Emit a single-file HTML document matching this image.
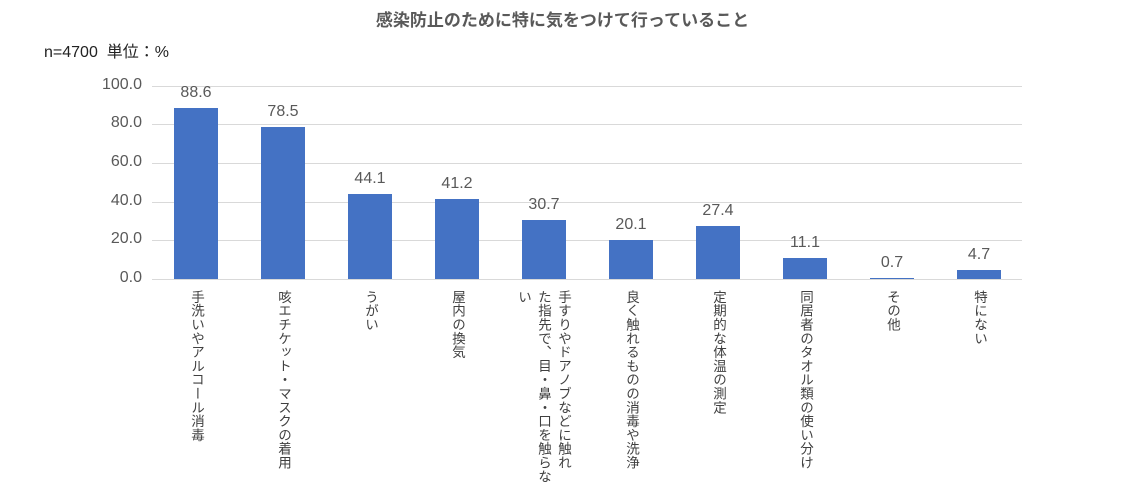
<!DOCTYPE html>
<html><head><meta charset="utf-8"><style>
body{margin:0;background:#fff;width:1125px;height:484px;overflow:hidden;position:relative;font-family:"Liberation Sans","Noto Sans CJK JP",sans-serif;color:#595959}
.abs{position:absolute}
.title{left:0;width:1125px;top:6px;text-align:center;font-size:17px;font-weight:bold;color:#595959}
.note{left:44px;top:38px;font-size:16px;color:#222}
.grid{height:1px;background:#d9d9d9;left:152px;width:870px}
.tick{width:60px;text-align:right;left:82px;font-size:16px;color:#595959}
.bar{background:#4472c4}
.val{font-size:16px;text-align:center;width:60px}
.lab{writing-mode:vertical-rl;font-size:13.5px;line-height:20px;top:290px;color:#404040;letter-spacing:0.3px;white-space:nowrap}
</style></head><body>
<div class="abs title">感染防止のために特に気をつけて行っていること</div>
<div class="abs note">n=4700&nbsp; 単位：%</div>
<div id="chart"></div>
<script>
const categories=["手洗いやアルコール消毒","咳エチケット・マスクの着用","うがい","屋内の換気","手すりやドアノブなどに触れた指先で、目・鼻・口を触らない","良く触れるものの消毒や洗浄","定期的な体温の測定","同居者のタオル類の使い分け","その他","特にない"];
const values=[88.6,78.5,44.1,41.2,30.7,20.1,27.4,11.1,0.7,4.7];
const ticks=[0,20,40,60,80,100];
const labelLines=[["手洗いやアルコール消毒"],["咳エチケット・マスクの着用"],["うがい"],["屋内の換気"],["手すりやドアノブなどに触れ","た指先で、目・鼻・口を触らな","い"],["良く触れるものの消毒や洗浄"],["定期的な体温の測定"],["同居者のタオル類の使い分け"],["その他"],["特にない"]];
const chart=document.getElementById('chart');
const y0=279,yTop=85.7,vmax=100;
const y=v=>y0-(y0-yTop)*v/vmax;
const x=i=>196+i*87;
ticks.forEach(t=>{
 const g=document.createElement('div');g.className='abs grid';g.style.top=Math.round(y(t))+'px';
 
 
 chart.appendChild(g);
 const l=document.createElement('div');l.className='abs tick';l.style.top=(y(t)-10)+'px';l.textContent=t.toFixed(1);
 
 
 chart.appendChild(l);
});
values.forEach((v,i)=>{
 const b=document.createElement('div');b.className='abs bar';
 const top=y(v);b.style.left=(x(i)-22)+'px';b.style.width='44px';b.style.top=top+'px';b.style.height=Math.max(1,y0-top)+'px';
 
 
 chart.appendChild(b);
 const t=document.createElement('div');t.className='abs val';t.style.left=(x(i)-30)+'px';t.style.top=(top-24)+'px';t.textContent=v.toFixed(1);
 
 
 chart.appendChild(t);
 const lab=document.createElement('div');lab.className='abs lab';
 const lines=labelLines[i];
 lab.innerHTML=lines.join('<br>');
 const w=lines.length*20;
 lab.style.left=(x(i)-w/2+(lines.length>1?-1:0))+'px';
 
 
 chart.appendChild(lab);
});
</script>
</body></html>
